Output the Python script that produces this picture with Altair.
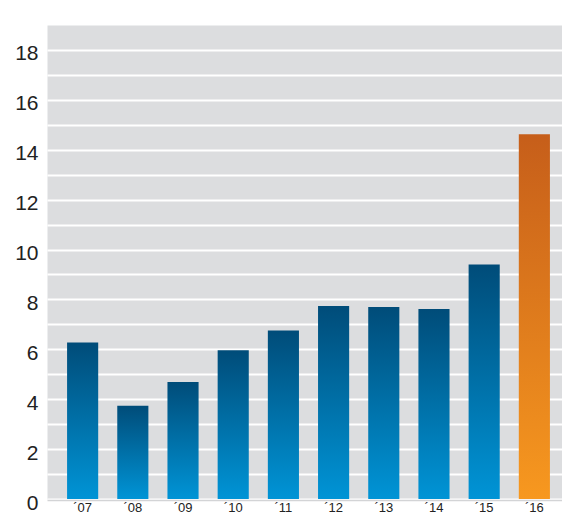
import altair as alt
import pandas as pd

years = ["´07", "´08", "´09", "´10", "´11", "´12", "´13", "´14", "´15", "´16"]
values = [6.27, 3.74, 4.69, 5.96, 6.75, 7.74, 7.70, 7.62, 9.40, 14.62]
highlight = [False] * 9 + [True]

df = pd.DataFrame({"year": years, "value": values, "hl": highlight})

blue_grad = alt.Gradient(
    gradient="linear", x1=0, x2=0, y1=0, y2=1,
    stops=[alt.GradientStop(color="#004c79", offset=0),
           alt.GradientStop(color="#0094d6", offset=1)])
orange_grad = alt.Gradient(
    gradient="linear", x1=0, x2=0, y1=0, y2=1,
    stops=[alt.GradientStop(color="#c65e1a", offset=0),
           alt.GradientStop(color="#f7981f", offset=1)])

base = alt.Chart(df)

x = alt.X("year:N", sort=years, title=None,
          scale=alt.Scale(paddingInner=0.38, paddingOuter=0.4, range=[0, 523]),
          axis=alt.Axis(labelAngle=0, labelFont="Liberation Sans", labelFontSize=13,
                        labelColor="#222222", ticks=False, labelPadding=1,
                        labelBaseline="top",
                        domain=True, domainColor="#d3d4d6", domainWidth=1.5, offset=1,
                        grid=False))
y = alt.Y("value:Q", title=None,
          scale=alt.Scale(domain=[0, 19], nice=False),
          axis=alt.Axis(values=list(range(0, 19)), grid=True, gridColor="#ffffff",
                        gridWidth=2, ticks=False, domain=False,
                        labelExpr="datum.value % 2 == 0 ? datum.label : ''",
                        labelFont="Liberation Sans", labelFontSize=21,
                        labelColor="#222222", labelPadding=9, labelOffset=4))

bars_blue = base.transform_filter("!datum.hl").mark_bar(fill=blue_grad).encode(x=x, y=y)
bars_orange = base.transform_filter("datum.hl").mark_bar(fill=orange_grad).encode(x=x, y=y)

chart = alt.layer(bars_blue, bars_orange).properties(
    width=515, height=474,
    autosize=alt.AutoSizeParams(type="none"),
    padding={"left": 39, "top": 17, "right": 0, "bottom": 17},
).configure_view(fill="#dcdddf", stroke="transparent")

chart.save("out.html", embed_options={"renderer": "svg", "actions": False})
